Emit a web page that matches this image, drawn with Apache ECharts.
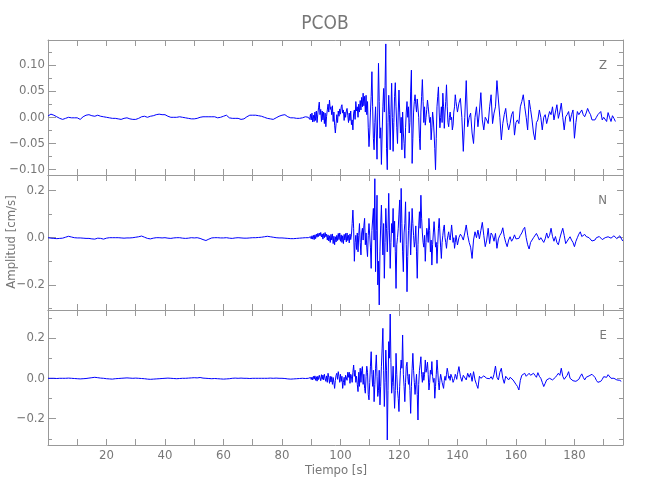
<!DOCTYPE html>
<html>
<head>
<meta charset="utf-8">
<script src="https://cdn.jsdelivr.net/npm/echarts@6/dist/echarts.min.js"></script>
<style>html,body{margin:0;padding:0;background:#fff}#c{width:650px;height:500px}</style>
</head>
<body>
<div id="c"></div>
<script>
// ---- data (amplitudes in 1e-3 cm/s) ----
const stationName = 'PCOB';
const componentNames = ['Z', 'N', 'E'];
const yAxisTitle = 'Amplitud [cm/s]';
const xAxisTitle = 'Tiempo [s]';
const quietStart = 0, quietStep = 1;
const strongStart = 89, strongStep = 0.25;
const codaStart = 140, codaStep = 0.5;

const zQuiet = [2.5,6,4,1,-2,-4,-2,0,-1,-1, -1,-4,1,4,5,3,2,4,2,1, 0,-1,-2,-2,-3,-4,-2,-1,-3,-4, -4,-2,1,2,0,2,3,5,6,5, 5,2,0,0,0,1,0,-1,-2,-3, -3,-2,0,1,1,1,1,1,-1,0, 2,4,-1,-2,-2,-2,-4,-3,1,4, 4,4,3,2,0,-2,-3,-4,-1,2, 4,5,1,-1,-1,-2,-2,-1,1];
const zStrong = [
0,3,-4,6, -5,8,-9,4, -8,10,-6,12, -10,6,18,29, 5,15,-8,12, -5,10,-12,8, -18,2,14,25, 10,33,15,20, 5,22,-8,10, -15,-30,-12,5,
-10,12,2,16, 6,20,24,8, 14,-6,10,0, 12,17,4,-10, 8,-6,12,-14, -5,-24,8,14, -4,30,12,20, 0,25,10,32, 14,38,20,46, 22,40,10,42,
5,30,-20,-56, -30,10,40,87, 20,-40,-62,-10, 20,-30,-80,10, 103,30,-40,-20, -90,-30,20,55, 10,60,140,-60, -100,-10,42,5, -62,10,65,0, -65,-10,40,66,
20,-20,-50,10, 52,10,-30,0, -62,10,-30,-50, -78,-20,10,30, 0,20,-30,-10, 50,90,-88,-40, 10,30,43,25, 10,35,33,0, -40,-62,10,40, 72,30,-10,20,
-15,0,15,33, 20,5,-10,0, -43,-20,10,-5, -30,-60,-100,-40, 20,40,58,10, -20,0,20,-10, 46,20,-21,10, 30,62,20,-10, -18,0,10,-5, 0,-24,-15,10,
20,43,30,20];
const zCoda = [10,27,36,0,-65,0,70,-18,0,8, -30,-50,0,20,-18,10,47,-5,-24,0, -5,-12,20,43,-12,8,20,70,33,0, -43,-12,5,17,-10,-24,-12,5,11,-34, -10,-5,-12,20,30,43,20,0,-24,33, 15,-5,-30,-43,-10,-5,14,0,-24,0, 5,-12,0,11,5,20,-5,10,24,-2, 10,27,0,-24,1,5,11,-8,5,14, -40,-10,11,5,8,14,5,1,8,17, 10,5,-5,-3,-5,0,5,7,11,-5, 0,1,-8,9,0,-8,3,-2,-8];

const nQuiet = [0,-2,-3,-4,-3,-2,2,6,3,0, -1,-1,-2,-3,-3,-5,-6,-2,-3,-6, -2,0,0,0,0,-1,-2,-1,-1,0, 2,4,7,2,-3,-5,-2,0,0,-1, 0,-2,-3,-1,0,0,-2,-3,-2,0, -1,0,-3,-8,-12,-6,-1,0,0,-1, -1,0,-2,-3,-1,0,-1,-2,-2,-1, 0,0,1,2,4,6,4,2,0,-1, -1,-2,-3,-4,-4,-3,-2,-1,0];
const nStrong = [
0,2,-2,4, -5,8,-6,10, -8,12,-4,15, 2,18,5,20, 8,22,3,16, -6,18,0,22, 4,15,-10,12, -14,8,-20,14, -10,16,-25,6, -30,4,-18,10,
-12,18,-8,20, -15,12,-20,8, -25,14,-10,18, -18,20,-12,10, -22,16,-8,12, 60,117,40,-100, -20,10,-50,20, -60,10,60,-20, -73,20,40,-10, 50,82,-30,20,
-40,-80,10,60, 60,-40,-130,30, 30,124,-10,250, -144,30,180,-200, -100,-285,-60,50, 138,20,-73,60, -172,-20,124,40, -60,30,188,20, -130,-20,60,20, 124,-40,70,-60,
-215,-30,0,40, 100,160,-20,209, 60,-60,-144,20, 60,152,-30,-229, -80,30,110,40, -73,20,124,60, 10,-40,-17,50, -60,-172,-30,50, 110,40,180,80, 20,-20,-40,10,
-100,-20,40,20, -20,82,30,-60, -10,-116,-30,20, 68,20,-40,-20, -109,-30,40,82, 20,-40,-88,-20, 10,40,54,0, -20,-45,-10,10, 25,0,-10,20, 54,20,-20,0,
-45,-20,10,-10];
const nCoda = [-31,0,15,5,-10,20,54,10,-20,-40, -88,-10,25,0,32,-5,30,65,10,-38, -10,40,-25,20,10,-15,18,-45,-5,10, 20,42,5,-20,-38,-10,4,-15,-5,12, -5,-3,-3,10,20,35,44,0,-30,-48, -20,-10,0,5,18,5,-10,0,-5,-20, -5,20,-2,10,40,5,-15,5,-20,-30, -3,20,40,10,-25,-31,-5,4,-10,-20, -38,-15,0,15,25,5,0,14,5,12, 0,-5,-14,-8,-10,0,-5,5,11,-8, -12,0,2,4,0,-2,6,8,4,-4, 0,8,0,-14];

const eQuiet = [0,0,0,-1,0,0,0,1,0,-1, -2,-3,-2,-1,1,3,5,3,1,0, -2,-3,-4,-2,-1,0,1,2,1,0, 1,0,-1,-2,-4,-5,-4,-3,-2,-1, 0,1,0,-1,-2,-1,0,0,1,2, 3,2,4,1,0,-1,-2,-1,-2,-3, -4,-3,-2,0,1,0,1,0,0,-1, 0,0,0,0,0,0,1,0,1,0, 0,-1,-3,-4,-3,-2,-1,0,-1];
const eStrong = [
0,2,-3,4, -6,6,-8,10, -4,12,-10,8, -14,10,-6,15, 2,-12,18,-5, 16,-8,20,0, -15,12,-20,25, 5,-25,10,-18, 8,-30,4,-20, -50,-10,15,25,
-5,33,10,-20, 20,-15,10,-50, -20,5,-35,15, 20,-10,30,5, 30,-25,20,10, -20,30,66,10, 40,-20,10,-30, -66,30,-40,50, -20,40,58,-30, 20,-50,-74,10,
60,30,-80,-107, -20,60,132,20, -40,40,-116,-30, 50,116,10,-90, -60,40,-132,-40, 60,150,248,40, -140,-20,140,40, -306,-60,182,100, 319,80,-74,-20, 60,-40,-149,-60,
124,20,-60,-100, -165,-40,40,91, 50,215,20,-40, -116,-20,60,80, 10,-30,20,-60, -174,-40,50,124, 40,-20,-80,-30, 20,-80,-207,-30, 40,70,107,20, -20,30,-10,20,
91,30,50,80, 20,-58,-20,40, 20,83,10,-20, 0,-99,-40,20, 91,40,-20,-58, -10,20,15,-20, -20,-50,-10,10, -10,20,50,30, 0,10,-10,20, 15,0,-20,-10,
0,20,10,-5];
const eCoda = [20,58,10,-15,15,10,-8,25,5,25, -15,33,-8,-30,-50,10,0,-8,12,5, 0,-8,-2,8,-5,20,61,5,-8,30, 50,0,-25,10,12,-8,5,8,-8,-15, -30,-40,-58,-10,15,12,25,10,5,25, 15,10,25,15,5,28,10,0,-20,-41, -25,-8,-5,0,-3,-8,0,5,15,25, 15,50,10,-5,-8,15,33,0,-8,-12, -20,-15,-15,-5,10,22,5,-8,5,10, 12,8,20,25,5,-10,-20,-25,-15,-5, 8,0,5,18,10,0,-8,0,-5,-8, 0,-10,-15];

// ---- axes / ticks ----
const timeRange = [0, 196.6];
const xTickValues = [10,20,30,40,50,60,70,80,90,100,110,120,130,140,150,160,170,180,190];
const xLabelValues = [20,40,60,80,100,120,140,160,180];
const yRanges = [[-0.1101, 0.1475], [-0.3064, 0.2657], [-0.331, 0.339]];
const yMajor = [[-0.1,-0.05,0,0.05,0.1], [-0.2,0,0.2], [-0.2,0,0.2]];
const yMinor = [[-0.075,-0.025,0.025,0.075,0.125], [-0.3,-0.1,0.1], [-0.3,-0.1,0.1,0.3]];
const yDecimals = [2, 1, 1];

function buildTrace(quiet, strong, coda) {
  const out = [];
  quiet.forEach((v, i) => out.push([quietStart + i * quietStep, v / 1000]));
  strong.forEach((v, i) => out.push([strongStart + i * strongStep, v / 1000]));
  coda.forEach((v, i) => out.push([codaStart + i * codaStep, v / 1000]));
  return out;
}
const traces = [buildTrace(zQuiet, zStrong, zCoda), buildTrace(nQuiet, nStrong, nCoda), buildTrace(eQuiet, eStrong, eCoda)];

const FONT = "'DejaVu Sans Condensed','Liberation Sans Narrow','Liberation Sans',sans-serif";
const TXT = '#777';
const FRAME = '#999';
const panelTops = [40, 175, 310];
const panelH = 135;
const plotLeft = 48, plotRight = 27;

const grids = [], xAxes = [], yAxes = [], series = [];
const line = {show: true, onZero: false, lineStyle: {color: FRAME, width: 1}};
const noLine = {show: false, onZero: false};
for (let i = 0; i < 6; i++) {
  grids.push({left: plotLeft, right: plotRight, top: panelTops[i % 3], height: panelH, containLabel: false, show: false});
}
for (let i = 0; i < 3; i++) {
  xAxes.push({
    gridIndex: i, type: 'value', min: timeRange[0], max: timeRange[1], position: 'bottom',
    axisLine: line,
    axisTick: {show: true, inside: true, length: 6, customValues: xTickValues, lineStyle: {color: FRAME}},
    axisLabel: {show: i === 2, customValues: xLabelValues, color: TXT, fontFamily: FONT, fontSize: 13, margin: 4},
    splitLine: {show: false}
  });
  xAxes.push({
    gridIndex: i, type: 'value', min: timeRange[0], max: timeRange[1], position: 'top',
    axisLine: line,
    axisTick: {show: true, inside: true, length: 6, customValues: xTickValues, lineStyle: {color: FRAME}},
    axisLabel: {show: false}, splitLine: {show: false}
  });
  const dec = yDecimals[i];
  const fmt = v => v.toFixed(dec).replace('-', '\u2212');
  const base = {gridIndex: i, type: 'value', min: yRanges[i][0], max: yRanges[i][1], splitLine: {show: false}};
  yAxes.push(Object.assign({}, base, {
    position: 'left', axisLine: line,
    axisTick: {show: true, inside: true, length: 8, customValues: yMajor[i], lineStyle: {color: FRAME}},
    axisLabel: {show: true, customValues: yMajor[i], formatter: fmt, color: TXT, fontFamily: FONT, fontSize: 13, margin: 3}
  }));
  yAxes.push(Object.assign({}, base, {
    position: 'right', axisLine: line,
    axisTick: {show: true, inside: true, length: 6, customValues: yMajor[i], lineStyle: {color: FRAME}},
    axisLabel: {show: false}
  }));
  series.push({
    type: 'line', xAxisIndex: i * 2, yAxisIndex: i * 2, data: traces[i],
    showSymbol: false, symbol: 'none', silent: true, clip: true,
    lineStyle: {color: '#0000ff', width: 1}
  });
}
for (let i = 0; i < 3; i++) {
  const g = 3 + i;
  xAxes.push({gridIndex: g, type: 'value', min: timeRange[0], max: timeRange[1], position: 'bottom', show: false});
  const base = {gridIndex: g, type: 'value', min: yRanges[i][0], max: yRanges[i][1], splitLine: {show: false}, axisLabel: {show: false}, axisLine: noLine};
  yAxes.push(Object.assign({}, base, {
    position: 'left',
    axisTick: {show: true, inside: true, length: 4, customValues: yMinor[i], lineStyle: {color: FRAME}}
  }));
  yAxes.push(Object.assign({}, base, {
    position: 'right',
    axisTick: {show: true, inside: true, length: 4, customValues: yMinor[i], lineStyle: {color: FRAME}}
  }));
}

const labelTops = [54, 189, 324];
const chart = echarts.init(document.getElementById('c'), null, {renderer: 'canvas'});
chart.setOption({
  animation: false,
  backgroundColor: '#fff',
  title: [{text: stationName, left: 'center', top: 10, textStyle: {color: TXT, fontFamily: FONT, fontSize: 19, fontWeight: 'normal'}}]
    .concat(componentNames.map((c, i) => ({text: c, right: 38, top: labelTops[i], textStyle: {color: TXT, fontFamily: FONT, fontSize: 13, fontWeight: 'normal'}}))),
  graphic: [
    {type: 'text', x: 12, y: 242, rotation: Math.PI / 2, style: {text: yAxisTitle, fill: TXT, font: "13px " + FONT, textAlign: 'center', textVerticalAlign: 'middle'}},
    {type: 'text', x: 336, y: 471, style: {text: xAxisTitle, fill: TXT, font: "13px " + FONT, textAlign: 'center', textVerticalAlign: 'middle'}}
  ],
  grid: grids, xAxis: xAxes, yAxis: yAxes, series: series
});
</script>
</body>
</html>
